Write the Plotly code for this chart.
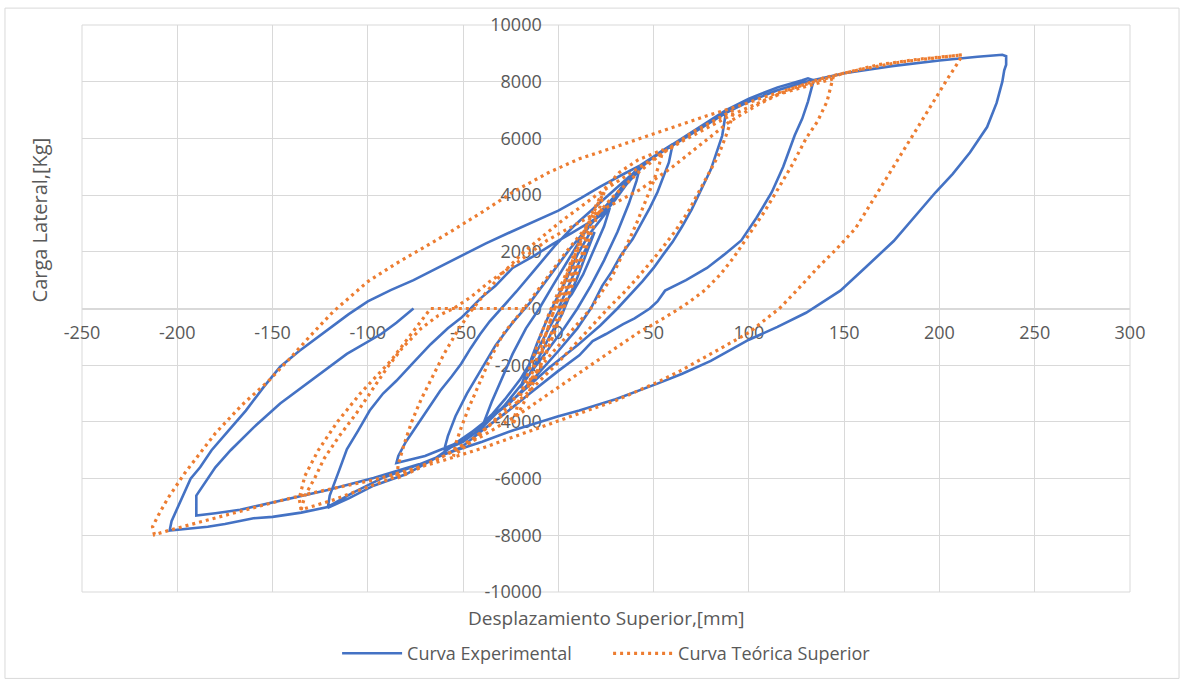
import plotly.graph_objects as go

# ---------------- data ----------------
x_ticks = [-250, -200, -150, -100, -50, 0, 50, 100, 150, 200, 250, 300]
x_tick_labels = ["-250", "-200", "-150", "-100", "-50", "0", "50", "100", "150", "200", "250", "300"]
y_ticks = [-10000, -8000, -6000, -4000, -2000, 0, 2000, 4000, 6000, 8000, 10000]
y_tick_labels = ["-10000", "-8000", "-6000", "-4000", "-2000", "0", "2000", "4000", "6000", "8000", "10000"]

# Curva Experimental, cycle by cycle (displacement mm, load kg)
exp_c1 = [(0, 0), (4, 600), (8, 1200), (12, 1800), (16, 2300), (19, 2700),
          (15, 2000), (10, 1100), (5, 300), (2, -200), (-4, -900), (-10, -1700), (-15, -2300), (-20, -2800),
          (-16, -2100), (-11, -1200), (-6, -400), (-2, 200), (4, 1000), (10, 1900), (16, 2600), (22, 3100), (27, 3550)]
exp_c2 = [(24, 2900), (19, 2100), (13, 1200), (7, 500), (1, 0), (-5, -700), (-12, -1600), (-20, -2500), (-28, -3200),
          (-35, -3750), (-39, -4000),
          (-35, -3300), (-30, -2500), (-24, -1600), (-17, -700), (-10, 0), (-3, 800), (5, 1700), (14, 2700), (22, 3400),
          (30, 4000), (37, 4600), (43, 5050)]
exp_c3 = [(41, 4500), (37, 3700), (31, 2700), (24, 1700), (17, 800), (10, 0), (3, -700), (-6, -1500), (-16, -2400),
          (-28, -3400), (-40, -4200), (-50, -4700), (-60, -5000),
          (-58, -4500), (-54, -3800), (-48, -3000), (-41, -2200), (-33, -1300), (-24, -500), (-15, 200), (-5, 1100),
          (6, 2100), (16, 2900), (26, 3600), (36, 4400), (46, 5150), (53, 5500), (60, 5800)]
exp_c4 = [(58, 5150), (55, 4600), (52, 4100), (48, 3550), (44, 3050), (39, 2450), (33, 1900), (28, 1300), (23, 800),
          (20, 400), (17, 0), (10, -700), (0, -1500), (-12, -2400), (-25, -3300), (-40, -4100), (-55, -4800),
          (-70, -5200), (-85, -5450),
          (-84, -5200), (-80, -4700), (-76, -4300), (-72, -3900), (-67, -3400), (-62, -2900), (-56, -2400),
          (-51, -1950), (-46, -1400), (-41, -900), (-36, -450), (-30, 0), (-22, 600), (-12, 1400), (-2, 2200),
          (8, 2900), (18, 3500), (28, 4100), (38, 4700), (48, 5250), (60, 5750), (75, 6400), (88, 6950)]
exp_c5 = [(87, 6500), (86, 6100), (83, 5500), (80, 4900), (75, 4200), (70, 3500), (65, 2900), (60, 2350), (55, 1900),
          (50, 1430), (44, 950), (38, 500), (31, 0), (22, -600), (10, -1300), (-5, -2100), (-20, -3000), (-35, -3800),
          (-50, -4600), (-65, -5300), (-80, -5850), (-97, -6250), (-110, -6700), (-121, -7030),
          (-120, -6600), (-115, -5700), (-111, -4970), (-105, -4300), (-99, -3600), (-92, -3000), (-85, -2550),
          (-76, -1900), (-67, -1260), (-58, -700), (-51, -330), (-46, 0), (-41, 350), (-33, 800), (-24, 1430),
          (-13, 1850), (-3, 2270), (8, 2700), (20, 3180), (24, 3350), (30, 3850), (36, 4400), (43, 4950), (50, 5350),
          (60, 5750), (75, 6350), (88, 6900), (100, 7300), (115, 7700), (130, 8000), (150, 8300), (175, 8550),
          (200, 8750), (220, 8880), (233, 8950), (235, 8900), (235, 8600), (234, 8400)]
exp_c6 = [(233, 8000), (230, 7250), (225, 6400), (216, 5500), (207, 4750), (198, 4100), (188, 3300), (176, 2380),
          (162, 1500), (148, 630), (130, -150), (115, -650), (100, -1100), (80, -1850), (65, -2300), (52, -2650),
          (30, -3200), (11, -3600), (0, -3800), (-24, -4300), (-40, -4700), (-58, -5100), (-75, -5550), (-93, -6000),
          (-108, -6500), (-121, -7000), (-135, -7200), (-150, -7350), (-160, -7400), (-167, -7500), (-175, -7600),
          (-184, -7700), (-195, -7780), (-204, -7830),
          (-203, -7500), (-201, -7200), (-198, -6700), (-193, -6000), (-188, -5600), (-182, -5000), (-173, -4300),
          (-164, -3600), (-155, -2800), (-146, -2050), (-136, -1500), (-128, -1100), (-120, -700), (-110, -200),
          (-100, 250), (-88, 650), (-76, 1000), (-63, 1450), (-50, 1900), (-38, 2300), (-25, 2700), (-12, 3100),
          (0, 3450), (12, 3900), (22, 4300), (33, 4700), (43, 5050), (52, 5450), (60, 5800), (75, 6450), (88, 7000),
          (100, 7400), (115, 7800), (128, 8050), (131, 8120), (134, 8050)]
exp_c7 = [(133, 7800), (131, 7300), (128, 6700), (124, 6100), (118, 5000), (112, 4100), (104, 3200), (96, 2400),
          (87, 1900), (78, 1430), (67, 1000), (56, 630), (52, 250), (48, 0), (40, -350), (34, -550), (25, -900),
          (18, -1150), (11, -1650), (0, -2200), (-15, -3000), (-28, -3700), (-40, -4300), (-51, -4900), (-71, -5450),
          (-97, -5980), (-121, -6400), (-144, -6750), (-167, -7100), (-180, -7220), (-190, -7300),
          (-190, -6600), (-186, -6200), (-180, -5600), (-172, -5000), (-160, -4200), (-146, -3350), (-128, -2450),
          (-111, -1600), (-93, -900), (-85, -500), (-77, -50), (-76, 0)]

# Curva Teórica Superior
theo_dense = [(0, 0), (4, 750), (7, 1300), (10, 1800),
              (8, 1300), (5, 700), (2, 100), (-1, -400), (-5, -1100), (-9, -1600),
              (-7, -1000), (-4, -400), (-1, 200), (3, 900), (7, 1600), (12, 2300), (17, 2900),
              (14, 2300), (11, 1600), (7, 900), (4, 300), (1, -300), (-3, -1000), (-7, -1700), (-12, -2300),
              (-16, -2800),
              (-13, -2100), (-10, -1500), (-6, -800), (-3, -200), (1, 500), (5, 1300), (10, 2100), (15, 2900),
              (20, 3600), (24, 4100),
              (21, 3400), (17, 2600), (13, 1800), (9, 1100), (5, 400), (2, -200), (-3, -1000), (-8, -1800),
              (-13, -2600), (-18, -3300), (-24, -4100),
              (-21, -3300), (-17, -2500), (-13, -1700), (-9, -900), (-5, -200), (0, 600), (6, 1600), (12, 2500),
              (18, 3400), (24, 4200), (32, 4800), (42, 5250), (55, 5600)]
theo_c4 = [(53, 5100), (50, 4500), (46, 3800), (41, 3000), (35, 2100), (28, 1100), (22, 500), (17, 0), (8, -700),
           (-5, -1700), (-18, -2800), (-30, -3700), (-42, -4500), (-55, -5200),
           (-54, -4800), (-51, -4200), (-47, -3500), (-42, -2700), (-36, -1800), (-29, -900), (-18, 0), (-8, 900),
           (3, 1900), (15, 2900), (28, 3900), (42, 4800), (55, 5500), (70, 6200), (92, 7000)]
theo_c3 = [(91, 6700), (88, 6100), (84, 5400), (80, 4900), (74, 4100), (68, 3400), (61, 2700), (53, 2000), (43, 1200),
           (35, 600), (26, 0), (15, -800), (0, -1900), (-15, -2900), (-30, -3800), (-45, -4600), (-60, -5200),
           (-72, -5600), (-85, -6000),
           (-84, -5500), (-81, -4800), (-77, -4000), (-72, -3200), (-66, -2400), (-60, -1600), (-53, -800),
           (-46, -100), (-40, 400), (-30, 1200), (-18, 2000), (0, 3000), (20, 4000), (43, 5000), (65, 5900),
           (90, 6800), (115, 7550), (144, 8100)]
theo_c2 = [(141, 7300), (136, 6600), (130, 6000), (123, 5100), (116, 4300), (108, 3400), (100, 2600), (92, 1800),
           (85, 1200), (77, 650), (68, 200), (60, -150), (50, -550), (42, -850), (30, -1400), (15, -2100), (0, -2800),
           (-20, -3700), (-40, -4500), (-60, -5200), (-80, -5800), (-100, -6300), (-118, -6750), (-135, -7100),
           (-133, -6600), (-128, -6000), (-123, -5300), (-115, -4500), (-106, -3700), (-98, -2900), (-90, -2100),
           (-82, -1400), (-72, -700), (-63, -250), (-55, 0), (-46, 400), (-36, 950), (-20, 1700), (-6, 2400),
           (18, 3300), (43, 4200), (60, 5000), (75, 5800), (90, 6600), (105, 7200), (120, 7700), (140, 8150),
           (160, 8450), (180, 8700), (200, 8870), (212, 8950)]
theo_c1 = [(210, 8700), (204, 8080), (196, 7200), (188, 6330), (180, 5450), (172, 4580), (164, 3700), (156, 2830),
           (146, 2100), (136, 1430), (126, 700), (116, 0), (108, -420), (100, -850), (88, -1300), (75, -1800),
           (64, -2200), (52, -2600), (40, -2950), (30, -3250), (11, -3700), (-10, -4200), (-25, -4550), (-41, -4950),
           (-60, -5350), (-76, -5650), (-97, -6050), (-115, -6300), (-132, -6550), (-150, -6850), (-167, -7150),
           (-180, -7380), (-193, -7600), (-203, -7800), (-212, -7980),
           (-213, -7700), (-210, -7300), (-205, -6700), (-196, -5800), (-188, -5100), (-180, -4400), (-166, -3400),
           (-152, -2550), (-140, -1700), (-130, -950), (-118, -100), (-100, 950), (-86, 1550), (-72, 2100),
           (-58, 2650), (-40, 3400), (-24, 4100), (-5, 4800), (11, 5280), (30, 5700), (43, 6000), (60, 6400),
           (78, 6800), (95, 7150), (110, 7500), (132, 7950), (150, 8300), (168, 8600), (190, 8800), (210, 8930)]
theo_b = [(-135, -7100), (-136, -6700), (-133, -5900), (-126, -5000), (-116, -4000), (-104, -3000), (-88, -1850),
          (-76, -800), (-70, -300), (-67, 0), (-40, 0), (-15, 0)]

exp_pieces = [exp_c1 + exp_c2 + exp_c3 + exp_c4 + exp_c5 + exp_c6 + exp_c7]
theo_pieces = [theo_dense + theo_c4 + theo_c3 + theo_c2 + theo_c1, theo_b]


def flatten(pieces):
    xs, ys = [], []
    for i, p in enumerate(pieces):
        if i:
            xs.append(None)
            ys.append(None)
        xs += [a for a, b in p]
        ys += [b for a, b in p]
    return xs, ys


ex, ey = flatten(exp_pieces)
tx, ty = flatten(theo_pieces)

GRID = "#d9d9d9"
TXT = "#595959"
FONT = "Open Sans"

fig = go.Figure()
fig.add_trace(go.Scatter(x=ex, y=ey, mode="lines", name="Curva Experimental",
                         line=dict(color="#4472C4", width=2.6)))
fig.add_trace(go.Scatter(x=tx, y=ty, mode="lines", name="Curva Teórica Superior",
                         line=dict(color="#ED7D31", width=3.2, dash="3px,4px")))

fig.update_layout(
    width=1184, height=684,
    margin=dict(l=82, r=54, t=22, b=91),
    paper_bgcolor="white", plot_bgcolor="white",
    font=dict(family=FONT, size=18, color=TXT),
    showlegend=True,
    legend=dict(orientation="h", x=0.502, xanchor="center", y=-0.1086, yanchor="middle",
                font=dict(size=18, color=TXT), itemwidth=60, entrywidth=196, entrywidthmode="pixels",
                bgcolor="rgba(0,0,0,0)"),
    xaxis=dict(range=[-250, 300], tickmode="array", tickvals=x_ticks, ticktext=x_tick_labels,
               showgrid=True, gridcolor=GRID, gridwidth=1, zeroline=False,
               showline=True, linecolor=GRID, linewidth=1,
               anchor="free", position=0.5, ticks="", ticklabelstandoff=8,
               tickfont=dict(size=18, color=TXT), layer="below traces"),
    yaxis=dict(range=[-10000, 10000], tickmode="array", tickvals=y_ticks, ticktext=y_tick_labels,
               showgrid=True, gridcolor=GRID, gridwidth=1, zeroline=False,
               showline=True, linecolor=GRID, linewidth=1,
               anchor="free", position=250 / 550, ticks="", ticklabelstandoff=13,
               tickfont=dict(size=18, color=TXT), layer="below traces"),
    shapes=[
        dict(type="rect", xref="paper", yref="paper", x0=0, x1=1, y0=0, y1=1,
             line=dict(color=GRID, width=1), layer="below"),
        dict(type="rect", xref="paper", yref="paper", x0=-0.0735, x1=1.0468, y0=-0.1524, y1=1.0298,
             line=dict(color=GRID, width=1), layer="below"),
    ],
    annotations=[
        dict(text="Desplazamiento Superior,[mm]", xref="paper", yref="paper", x=0.5, y=-0.0455,
             xanchor="center", yanchor="middle", showarrow=False, font=dict(size=19, color=TXT)),
        dict(text="Carga Lateral,[Kg]", xref="paper", yref="paper", x=-0.0401, y=0.657, textangle=-90,
             xanchor="center", yanchor="middle", showarrow=False, font=dict(size=20, color=TXT)),
    ],
)

fig.write_html("out.html", config={"displayModeBar": False},
               post_script="document.body.style.margin='0';document.body.style.overflow='hidden';")
